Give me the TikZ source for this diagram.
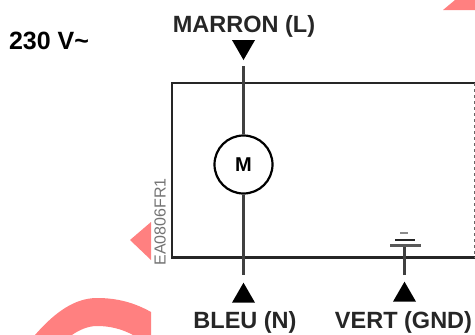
\documentclass[tikz,border=0pt]{standalone}
\usepackage{fontspec}
\setmainfont{Liberation Sans}
\usetikzlibrary{shapes.geometric}
\definecolor{pinkmark}{HTML}{FF8080}
\tikzset{
	wire/.style={line width=2.8pt, black!75},
	frameline/.style={line width=2.2pt, black!85},
	label/.style={font=\fontsize{23.5}{24}\selectfont\bfseries, text=black!85, inner sep=0pt},
	tridown/.style={regular polygon, regular polygon sides=3, shape border rotate=180, fill=black, inner sep=0pt, minimum size=26.6pt},
	triup/.style={regular polygon, regular polygon sides=3, fill=black, inner sep=0pt, minimum size=26.6pt},
}
\begin{document}
\begin{tikzpicture}[x=1pt, y=-1pt]
		\useasboundingbox (0, 0) rectangle (475, 335);
		% pink marks
		\fill [pinkmark](443, 10)--(455, 0)--(475, 0)--(475, 10)--cycle;
		\fill [pinkmark](130, 240)--(151, 222)--(151, 260)--cycle;
		\fill [pinkmark](35, 335).. controls (55, 312) and (75, 298) .. (97, 298).. controls (118, 298) and (135, 303) .. (151, 312)--(151, 335)--(133, 335).. controls (122, 329) and (110, 326) .. (97, 326).. controls (88, 326) and (79, 330) .. (72, 335)--cycle;
		% frame
		\draw [frameline](475, 83)--(172, 83)--(172, 257.5)--(475, 257.5);
		\draw [line width=0.8pt, black!60, dashed](474.6, 83)--(474.6, 257.5);
		% texts
		\node (supply)at(49, 41)[font=\fontsize{25}{25}\selectfont\bfseries, inner sep=0pt]  {230 V\char`\~};
		\node (brown)at(244, 26)[label]  {MARRON (L)};
		\node (blue)at(245, 322)[label]  {BLEU (N)};
		\node (green)at(403.5, 322)[label]  {VERT (GND)};
		\node (code)at(160, 222)[rotate=90, font=\fontsize{16}{16}\selectfont, text=black!55, inner sep=0pt]  {EA0806FR1};
		% motor and terminals
		\node (motor)at(243.5, 164.5)[draw, circle, line width=2.2pt, minimum size=58pt, inner sep=0pt, font=\fontsize{20}{20}\selectfont\bfseries]  {M};
		\node (lineTri)at(243.5, 46.7)[tridown]  {};
		\node (neutralTri)at(243.5, 296)[triup]  {};
		\node (earthTri)at(404.5, 295)[triup]  {};
		\coordinate (lineEnd)at(243.5, 66);
		\coordinate (neutralEnd)at(243.5, 275);
		\coordinate (earthEnd)at(404.5, 275);
		\coordinate (earthTop)at(404.5, 245);
		\draw [wire](lineEnd)--(motor);
		\draw [wire](motor)--(neutralEnd);
		\draw [wire](earthEnd)--(earthTop);
		% earth symbol
		\draw [line width=3pt, black!65](390, 245)--(421, 245);
		\draw [line width=2pt, black!85](395, 240)--(415, 240);
		\draw [line width=2pt, black!45](400, 233)--(408, 233);
	\end{tikzpicture}
\end{document}
